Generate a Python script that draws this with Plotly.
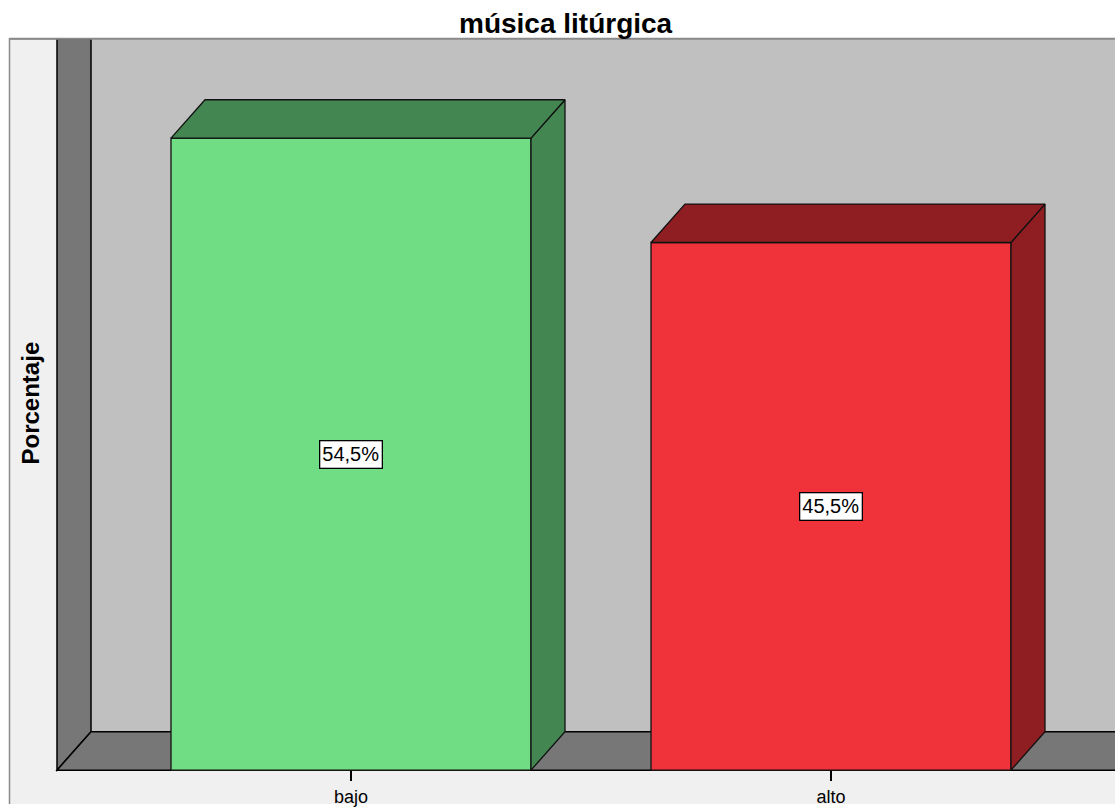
import plotly.graph_objects as go

# ---- data ----
categories = ["bajo", "alto"]
percentages = [54.5, 45.5]
title_text = "música litúrgica"
y_title = "Porcentaje"

# ---- styling ----
front_colors = ["#70DC84", "#F0323A"]
side_colors = ["#438652", "#8F1E22"]
wall_color = "#777777"
back_color = "#C0C0C0"
frame_fill = "#F0F0F0"
frame_line = "#8A8A8A"
FONT = "Liberation Sans, Arial, sans-serif"

W, H = 1115, 807
PX_PER_CAT = 480.0          # horizontal pixels between category centres
PX_PER_PCT = 11.64          # vertical pixels per percentage point
X0_PX = 351.0               # pixel position of the first category centre
Y0_PX = 773.0               # pixel position of 0 %

BAR_W = 0.75                # bar width in category units
DEPTH_X = 34.0 / PX_PER_CAT  # 3-D depth offset (x, category units)
DEPTH_Y = 38.5 / PX_PER_PCT  # 3-D depth offset (y, percentage units)

x_range = [-X0_PX / PX_PER_CAT, (W - X0_PX) / PX_PER_CAT]
y_range = [-(H - Y0_PX) / PX_PER_PCT, Y0_PX / PX_PER_PCT]

wall_x = -0.6125                       # front edge of the left wall
top_y = (Y0_PX - 39.0) / PX_PER_PCT    # top of the chart frame
frame_x = (9.5 - X0_PX) / PX_PER_CAT
right_x = x_range[1] + 0.05
bottom_y = y_range[0] - 1

fig = go.Figure()

# ---- frame, walls and floor ----
shapes = [
    dict(type="rect", xref="x", yref="y", x0=frame_x, x1=right_x, y0=bottom_y, y1=top_y,
         fillcolor=frame_fill, line=dict(color=frame_line, width=1.5), layer="below"),
    dict(type="rect", xref="x", yref="y", x0=wall_x + DEPTH_X, x1=right_x, y0=DEPTH_Y, y1=top_y,
         fillcolor=back_color, line=dict(width=0), layer="below"),
]
left_wall = f"M {wall_x},0 L {wall_x},{top_y} L {wall_x + DEPTH_X},{top_y} L {wall_x + DEPTH_X},{DEPTH_Y} Z"
floor = f"M {wall_x},0 L {wall_x + DEPTH_X},{DEPTH_Y} L {right_x},{DEPTH_Y} L {right_x},0 Z"
shapes.append(dict(type="path", xref="x", yref="y", path=left_wall, fillcolor=wall_color,
                   line=dict(color="black", width=1.5), layer="below"))
shapes.append(dict(type="path", xref="x", yref="y", path=floor, fillcolor=wall_color,
                   line=dict(color="black", width=1.5), layer="below"))
# top border of the frame drawn over the walls
shapes.append(dict(type="line", xref="x", yref="y", x0=frame_x, x1=right_x, y0=top_y, y1=top_y,
                   line=dict(color=frame_line, width=2), layer="below"))

# ---- bars: front faces ----
xs = list(range(len(categories)))
fig.add_trace(go.Bar(
    x=xs, y=percentages, width=BAR_W,
    marker=dict(color=front_colors, line=dict(color="#111111", width=1.3)),
    hoverinfo="skip",
))

# ---- bars: top and side faces ----
for xc, v, sc in zip(xs, percentages, side_colors):
    l, r = xc - BAR_W / 2, xc + BAR_W / 2
    side_x = [r, r + DEPTH_X, r + DEPTH_X, r, r]
    side_y = [0, DEPTH_Y, v + DEPTH_Y, v, 0]
    top_x = [l, l + DEPTH_X, r + DEPTH_X, r, l]
    top_y_pts = [v, v + DEPTH_Y, v + DEPTH_Y, v, v]
    for px, py in ((side_x, side_y), (top_x, top_y_pts)):
        fig.add_trace(go.Scatter(
            x=px, y=py, mode="lines", fill="toself", fillcolor=sc,
            line=dict(color="#111111", width=1.3), hoverinfo="skip",
        ))

# ---- value labels ----
annotations = []
for xc, v in zip(xs, percentages):
    annotations.append(dict(
        x=xc, y=v / 2, xref="x", yref="y", showarrow=False,
        text=f"{v:.1f}%".replace(".", ","),
        font=dict(family=FONT, size=20, color="black"),
        bgcolor="white", bordercolor="black", borderwidth=1.3, borderpad=2,
    ))

annotations.append(dict(
    x=566 / W, y=1 - 24 / H, xref="paper", yref="paper", showarrow=False,
    text=f"<b>{title_text}</b>", font=dict(family=FONT, size=28, color="black"),
    xanchor="center", yanchor="middle",
))
annotations.append(dict(
    x=30 / W, y=1 - 405 / H, xref="paper", yref="paper", showarrow=False,
    text=f"<b>{y_title}</b>", textangle=-90,
    font=dict(family=FONT, size=24, color="black"),
    xanchor="center", yanchor="middle",
))

fig.update_layout(
    width=W, height=H, margin=dict(l=0, r=0, t=0, b=0),
    paper_bgcolor="white", plot_bgcolor="white",
    showlegend=False, shapes=shapes, annotations=annotations,
    xaxis=dict(
        range=x_range, tickmode="array", tickvals=xs, ticktext=categories,
        ticks="outside", ticklen=10, tickwidth=1.5, tickcolor="black",
        showgrid=False, zeroline=False, showline=False,
        anchor="free", position=(H - Y0_PX) / H,
        tickfont=dict(family=FONT, size=18, color="black"),
        fixedrange=True,
    ),
    yaxis=dict(range=y_range, visible=False, fixedrange=True),
)

fig.write_html("out.html")
